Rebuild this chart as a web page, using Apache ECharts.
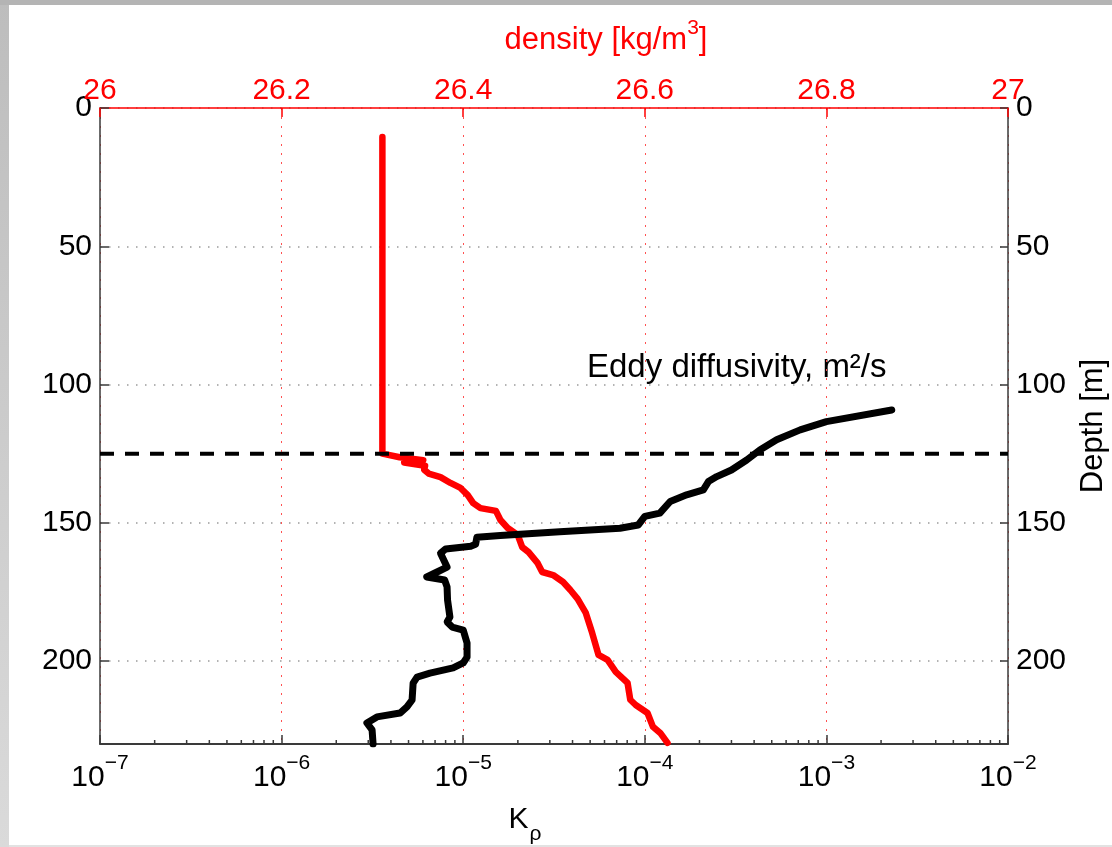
<!DOCTYPE html>
<html>
<head>
<meta charset="utf-8">
<script src="https://cdn.jsdelivr.net/npm/echarts@6/dist/echarts.min.js"></script>
<style>
  html, body { margin: 0; padding: 0; }
  body { width: 1112px; height: 847px; position: relative; overflow: hidden;
         background: #e2e2e2; }
  #leftBand { position: absolute; left: 0; top: 0; width: 9px; height: 847px;
              background: linear-gradient(#bdbdbd, #dadada); }
  #topBand { position: absolute; left: 0; top: 0; width: 1112px; height: 5px; background: #b4b4b4; }
  #paper { position: absolute; left: 9px; top: 5px; width: 1103px; height: 840px; background: #fff; }
  #chart { position: absolute; left: 0; top: 0; width: 1112px; height: 847px; }
</style>
</head>
<body>
<div id="leftBand"></div>
<div id="topBand"></div>
<div id="paper"></div>
<div id="chart"></div>
<script>
// depth axis ticks
var depthTicks = [0, 50, 100, 150, 200]
var depthMax = 230
// density (top axis)
var densDepth = [10.5, 125, 126.3, 127.4, 128.2, 129.4, 130.8, 132.2, 133.5, 135.6, 137.4, 140, 142.9, 144.7, 145.7, 149, 151.9, 154.4, 158.8, 160.6, 164.6, 167.8, 168.9, 171.4, 174.3, 177.5, 182.6, 189.8, 197.8, 199.6, 203.9, 207.9, 214, 215.9, 218.8, 223.8, 226, 229.6]
var densVal = [26.311, 26.311, 26.33, 26.356, 26.335, 26.358, 26.357, 26.362, 26.375, 26.386, 26.397, 26.405, 26.411, 26.419, 26.436, 26.441, 26.449, 26.46, 26.465, 26.472, 26.482, 26.487, 26.499, 26.51, 26.518, 26.526, 26.535, 26.542, 26.549, 26.559, 26.568, 26.581, 26.584, 26.59, 26.603, 26.609, 26.617, 26.625]
// eddy diffusivity K_rho (bottom log axis), black curve
var kDepth = [109.2, 113.4, 116.4, 120, 123.7, 127.3, 130.9, 133.3, 135.1, 138.1, 139.9, 142.3, 146.5, 147.7, 150.8, 152, 153.2, 154.6, 155.2, 157.8, 158.5, 159.5, 161, 166, 167.8, 169.6, 170.7, 173.2, 177.9, 184.1, 185.9, 187.7, 188.8, 193.5, 198.6, 200.7, 202.5, 204.4, 205.8, 208, 214.1, 216.6, 218.8, 220.2, 222.4, 224.9, 230]
var kVal = [2.29e-3, 1.0e-3, 7.17e-4, 5.32e-4, 4.3e-4, 3.64e-4, 3.0e-4, 2.49e-4, 2.24e-4, 2.1e-4, 1.7e-4, 1.38e-4, 1.21e-4, 1.0e-4, 9.2e-5, 7.3e-5, 3.4e-5, 1.6e-5, 1.19e-5, 1.17e-5, 1.1e-5, 8.0e-6, 7.5e-6, 8.15e-6, 7.18e-6, 6.3e-6, 7.9e-6, 8.15e-6, 8.2e-6, 8.45e-6, 8.15e-6, 8.7e-6, 1.0e-5, 1.05e-5, 1.05e-5, 1.0e-5, 8.8e-6, 6.56e-6, 5.57e-6, 5.3e-6, 5.23e-6, 4.9e-6, 4.49e-6, 3.35e-6, 2.95e-6, 3.15e-6, 3.19e-6]
// mixed layer line
var mldDepth = 125
var kRange = [1e-7, 1e-2]
var densRange = [26, 27]

var FONT = "'Liberation Sans', Arial, sans-serif"

// minor ticks of the log axis (2..9 in each decade)
var minorTicks = []
for (var e = -7; e < -2; e++) {
    for (var m = 2; m <= 9; m++) minorTicks.push([m * Math.pow(10, e)])
}

var densData = densVal.map(function (v, i) { return [v, densDepth[i]] })
var kData = kVal.map(function (v, i) { return [v, kDepth[i]] })

var chart = echarts.init(document.getElementById('chart'))
var option = {
    backgroundColor: 'transparent',
    animation: false,
    textStyle: { fontFamily: FONT },
    grid: { left: 100, right: 104, top: 108, bottom: 103, containLabel: false, outerBoundsMode: 'none' },
    xAxis: [{
        type: 'log',
        logBase: 10,
        min: kRange[0],
        max: kRange[1],
        position: 'bottom',
        axisLine: { onZero: false, lineStyle: { color: '#3a3a3a', width: 2 } },
        axisTick: { inside: true, length: 9, lineStyle: { color: '#3a3a3a', width: 1.5 } },
        splitLine: { show: false },
        axisLabel: {
            margin: 9,
            formatter: function (v) {
                var ex = Math.round(Math.log10(v))
                return '{b|10}{s|\u2212' + Math.abs(ex) + '}'
            },
            rich: {
                b: { fontSize: 30, color: '#000', fontFamily: FONT, lineHeight: 40, verticalAlign: 'bottom' },
                s: { fontSize: 21, color: '#000', fontFamily: FONT, lineHeight: 20, verticalAlign: 'top' }
            }
        },
        name: '{k|K}{r|\u03c1}',
        nameLocation: 'middle',
        nameGap: 61,
        nameTextStyle: {
            padding: [0, 58, 0, 0],
            rich: {
                k: { fontSize: 30, color: '#000', fontFamily: FONT, lineHeight: 40, verticalAlign: 'top' },
                r: { fontSize: 21, color: '#000', fontFamily: FONT, lineHeight: 20, verticalAlign: 'bottom', padding: [22, 0, 0, 1] }
            }
        }
    }, {
        type: 'value',
        min: densRange[0],
        max: densRange[1],
        interval: 0.2,
        position: 'top',
        axisLine: { onZero: false, lineStyle: { color: '#ff0000', width: 1.5 } },
        axisTick: { inside: true, length: 9, lineStyle: { color: '#ff0000', width: 1.5 } },
        splitLine: { show: true, lineStyle: { color: '#ff5050', width: 1, type: [2, 7] } },
        axisLabel: {
            color: '#ff0000', fontSize: 30, fontFamily: FONT, margin: 2,
            formatter: function (v) { return String(+v.toFixed(1)) }
        },
        name: '{t|density [kg/m}{u|3}{t|]}',
        nameLocation: 'middle',
        nameGap: 52,
        nameTextStyle: {
            padding: [0, 0, 0, 104],
            rich: {
                t: { fontSize: 31, color: '#ff0000', fontFamily: FONT, lineHeight: 38, verticalAlign: 'bottom' },
                u: { fontSize: 21, color: '#ff0000', fontFamily: FONT, lineHeight: 20, verticalAlign: 'top' }
            }
        }
    }],
    yAxis: [{
        type: 'value',
        inverse: true,
        min: 0,
        max: depthMax,
        interval: 50,
        position: 'left',
        axisLine: { onZero: false, lineStyle: { color: '#3a3a3a', width: 1.5 } },
        axisTick: { inside: true, length: 9, lineStyle: { color: '#3a3a3a', width: 1.5 } },
        splitLine: { show: true, lineStyle: { color: '#9a9a9a', width: 1.5, type: [1.5, 7.5] } },
        axisLabel: {
            color: '#000', fontSize: 30, fontFamily: FONT, margin: 8, showMaxLabel: false,
            formatter: function (v) { return depthTicks.indexOf(v) >= 0 ? String(v) : '' }
        }
    }, {
        type: 'value',
        inverse: true,
        min: 0,
        max: depthMax,
        interval: 50,
        position: 'right',
        axisLine: { onZero: false, lineStyle: { color: '#3a3a3a', width: 1.5 } },
        axisTick: { inside: true, length: 8, lineStyle: { color: '#3a3a3a', width: 1.5 } },
        splitLine: { show: false },
        axisLabel: {
            color: '#000', fontSize: 30, fontFamily: FONT, margin: 8, showMaxLabel: false,
            formatter: function (v) { return depthTicks.indexOf(v) >= 0 ? String(v) : '' }
        },
        name: 'Depth [m]',
        nameLocation: 'middle',
        nameRotate: 90,
        nameGap: 70,
        nameTextStyle: { color: '#000', fontSize: 31, fontFamily: FONT }
    }],
    graphic: [{
        type: 'text',
        left: 587,
        top: 351,
        style: { text: 'Eddy diffusivity, m\u00b2/s', font: '33px ' + FONT, fill: '#000' }
    }],
    series: [{
        // minor ticks on the log axis
        type: 'custom',
        xAxisIndex: 0,
        yAxisIndex: 0,
        silent: true,
        clip: false,
        data: minorTicks,
        encode: { x: 0 },
        renderItem: function (params, api) {
            var p = api.coord([api.value(0), depthMax])
            return {
                type: 'line',
                shape: { x1: p[0], y1: p[1], x2: p[0], y2: p[1] - 4 },
                style: { stroke: '#3a3a3a', lineWidth: 1.5 }
            }
        }
    }, {
        name: 'density',
        type: 'line',
        xAxisIndex: 1,
        yAxisIndex: 0,
        data: densData,
        showSymbol: false,
        lineStyle: { color: '#ff0000', width: 6.5, cap: 'round', join: 'round' }
    }, {
        name: 'K',
        type: 'line',
        xAxisIndex: 0,
        yAxisIndex: 0,
        data: kData,
        showSymbol: false,
        lineStyle: { color: '#000', width: 7, cap: 'round', join: 'round' }
    }, {
        name: 'mld',
        type: 'line',
        xAxisIndex: 0,
        yAxisIndex: 0,
        data: [[kRange[0], mldDepth], [kRange[1], mldDepth]],
        showSymbol: false,
        z: 3,
        lineStyle: { color: '#000', width: 4, type: [14, 11] }
    }]
}
chart.setOption(option)
</script>
</body>
</html>
